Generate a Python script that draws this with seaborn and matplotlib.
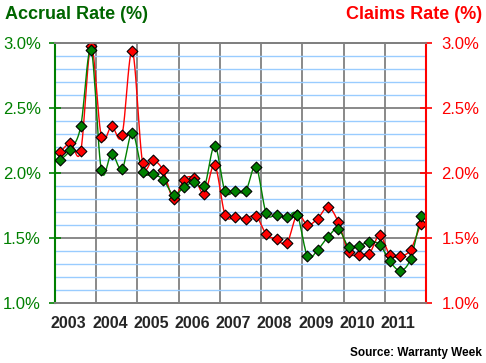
import numpy as np
import pandas as pd
import matplotlib
matplotlib.use("Agg")
import matplotlib.pyplot as plt
import seaborn as sns
from matplotlib.ticker import MultipleLocator, FixedLocator, NullFormatter

# quarterly warranty rates (% of sales), 2003 Q1 .. 2011 Q4
years = list(range(2003, 2012))
accrual_rate = [2.10, 2.18, 2.36, 2.95,
                2.02, 2.15, 2.03, 2.31,
                2.01, 1.99, 1.95, 1.83,
                1.89, 1.93, 1.90, 2.21,
                1.86, 1.86, 1.86, 2.05,
                1.69, 1.68, 1.66, 1.68,
                1.36, 1.41, 1.51, 1.57,
                1.43, 1.44, 1.47, 1.45,
                1.32, 1.25, 1.34, 1.67]
claims_rate = [2.16, 2.23, 2.17, 2.98,
               2.28, 2.36, 2.29, 2.94,
               2.08, 2.10, 2.02, 1.80,
               1.95, 1.96, 1.84, 2.06,
               1.68, 1.66, 1.65, 1.67,
               1.53, 1.49, 1.46, 1.68,
               1.60, 1.65, 1.74, 1.62,
               1.39, 1.37, 1.38, 1.52,
               1.37, 1.36, 1.41, 1.61]

GREEN = "#008000"
DARKGREEN = "#006600"
RED = "#ff0000"

# x position of each quarter (centre of the quarter)
xpos = np.array([y + (q + 0.5) / 4 for y in years for q in range(4)])
df = pd.DataFrame({"x": xpos, "accrual": accrual_rate, "claims": claims_rate})


def smooth(x, y, n=12):
    # catmull-rom curve through the points, like the smoothed line in the original
    pts = np.column_stack([x, y])
    P = np.vstack([pts[0], pts, pts[-1]])
    t = np.linspace(0, 1, n, endpoint=False)[:, None]
    segs = []
    for i in range(1, len(P) - 2):
        p0, p1, p2, p3 = P[i - 1], P[i], P[i + 1], P[i + 2]
        segs.append(0.5 * (2 * p1 + (-p0 + p2) * t
                           + (2 * p0 - 5 * p1 + 4 * p2 - p3) * t ** 2
                           + (-p0 + 3 * p1 - 3 * p2 + p3) * t ** 3))
    segs.append(pts[-1:])
    c = np.vstack(segs)
    return c[:, 0], c[:, 1]


sns.set_style("white")
plt.rcParams["font.family"] = ["Liberation Sans", "DejaVu Sans"]

fig = plt.figure(figsize=(4.86, 3.63), dpi=100)
ax = fig.add_axes([55 / 486, 1 - 303 / 363, (426 - 55) / 486, (303 - 43) / 363])
ax2 = ax.twinx()

ax.set_xlim(2003, 2012)
ax.set_ylim(1.0, 3.0)
ax2.set_ylim(1.0, 3.0)

# grid
ax.yaxis.set_major_locator(MultipleLocator(0.5))
ax.yaxis.set_minor_locator(MultipleLocator(0.1))
ax.grid(which="minor", axis="y", color="#99ccff", lw=1.0, zorder=0)
ax.grid(which="major", axis="y", color="#808080", lw=1.3, zorder=0)
ax.grid(which="major", axis="x", color="#808080", lw=1.3, zorder=0)
ax.set_axisbelow(True)

# lines (smoothed), claims first so accrual sits on top
for col, color in [("claims", RED), ("accrual", GREEN)]:
    sx, sy = smooth(df["x"].values, df[col].values)
    sns.lineplot(x=sx, y=sy, sort=False, estimator=None, color=color, lw=1.0, ax=ax, zorder=3)
    sns.scatterplot(data=df, x="x", y=col, marker="D", s=30, color=color,
                    edgecolor="black", linewidth=0.8, ax=ax, zorder=4)

ax.set_xlabel("")
ax.set_ylabel("")
ax2.set_ylabel("")

# x ticks: year boundaries, labels slightly right of them
ax.xaxis.set_major_locator(FixedLocator(list(range(2003, 2013))))
ax.xaxis.set_major_formatter(NullFormatter())
ax.xaxis.set_minor_locator(FixedLocator([y + 0.33 for y in years]))
ax.set_xticklabels([str(y) for y in years], minor=True)
ax.tick_params(axis="x", which="major", direction="out", length=5, width=1.2, color="#808080")
ax.tick_params(axis="x", which="minor", length=0, pad=9, labelsize=11.5)
for lab in ax.get_xticklabels(minor=True):
    lab.set_fontweight("bold")

yt = [1.0, 1.5, 2.0, 2.5, 3.0]
ylabs = [f"{v:.1f}%" for v in yt]
ax.set_yticks(yt)
ax.set_yticklabels(ylabs)
ax.tick_params(axis="y", which="major", direction="inout", length=8, width=1.2,
               color=GREEN, labelcolor=GREEN, labelsize=12, pad=6)
ax.tick_params(axis="y", which="minor", length=0)
ax2.set_yticks(yt)
ax2.set_yticklabels(ylabs)
ax2.tick_params(axis="y", direction="inout", length=8, width=1.2,
                color=RED, labelcolor=RED, labelsize=12, pad=7)

for a in (ax, ax2):
    a.spines["top"].set_color("#808080")
    a.spines["bottom"].set_color("#808080")
    a.spines["top"].set_linewidth(1.3)
    a.spines["bottom"].set_linewidth(1.3)
ax.spines["left"].set_color(GREEN)
ax.spines["left"].set_linewidth(1.5)
ax2.spines["left"].set_visible(False)
ax2.spines["right"].set_color(RED)
ax2.spines["right"].set_linewidth(1.5)
ax.spines["right"].set_visible(False)

fig.text(5 / 486, 1 - 19 / 363, "Accrual Rate (%)", color=DARKGREEN, fontsize=13,
         fontweight="bold", ha="left", va="baseline")
fig.text(482 / 486, 1 - 19 / 363, "Claims Rate (%)", color=RED, fontsize=13,
         fontweight="bold", ha="right", va="baseline")
fig.text(482 / 486, 1 - 356 / 363, "Source: Warranty Week", color="black", fontsize=8.5,
         fontweight="bold", ha="right", va="baseline")

fig.savefig("out.png", dpi=100, facecolor="white")
